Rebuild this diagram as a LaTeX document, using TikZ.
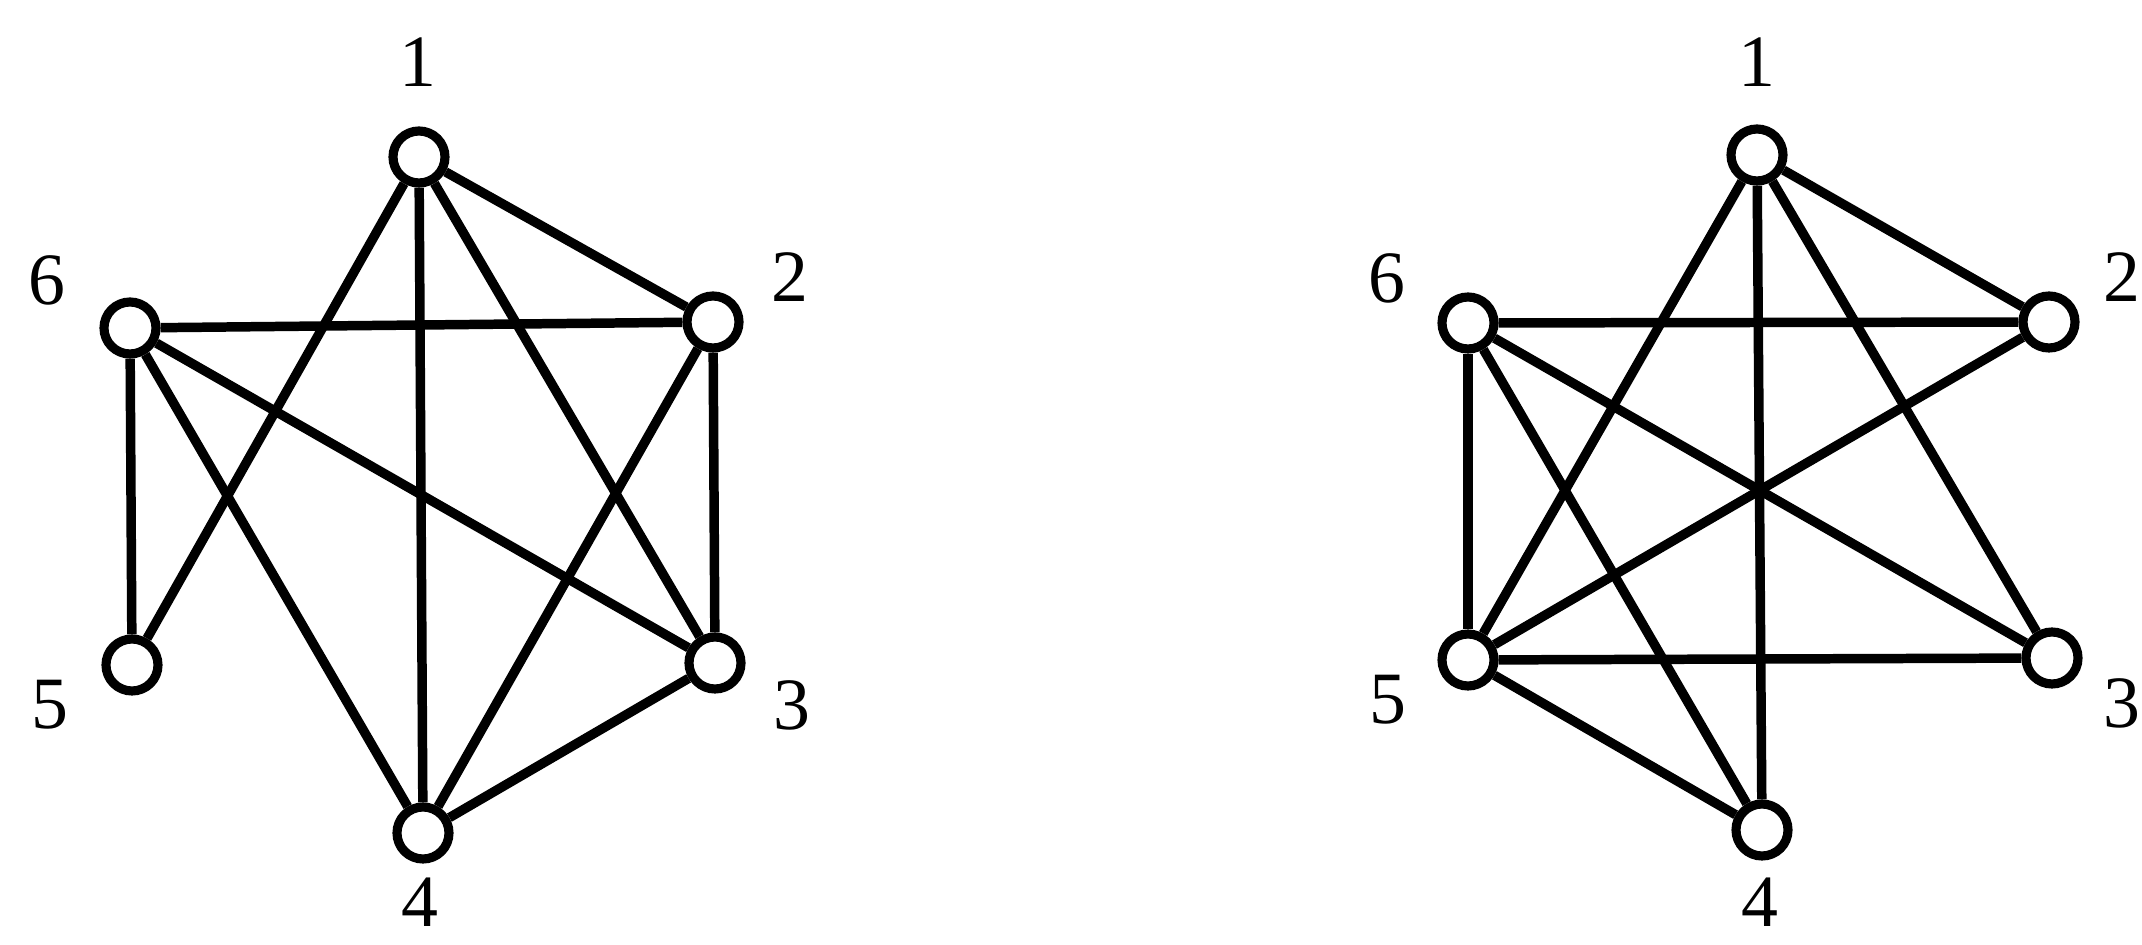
\documentclass[tikz,border=0pt]{standalone}
\usepackage{fontspec}
\setmainfont{Liberation Serif}
\usetikzlibrary{positioning}

\begin{document}
\begin{tikzpicture}[font=\fontsize{21}{24}\selectfont]
    \tikzset{
        vertex/.style={circle, draw=black, line width=2.6pt, fill=white,
            minimum size=0.52cm, inner sep=0pt},
        vlabel/.style={inner sep=0pt},
        edge/.style={line width=2.7pt}
    }
    \useasboundingbox (0,0) rectangle (21.42,-9.45);
    % left graph
    \node[vertex] (a1) at (4.19,-1.57) {};
    \node[vertex] (a2) at (7.13,-3.22) {};
    \node[vertex] (a3) at (7.15,-6.63) {};
    \node[vertex] (a4) at (4.23,-8.33) {};
    \node[vertex] (a5) at (1.32,-6.65) {};
    \node[vertex] (a6) at (1.30,-3.28) {};
    \node[vlabel] (la1) at (4.18,-0.62) {1};
    \node[vlabel] (la2) at (7.90,-2.77) {2};
    \node[vlabel] (la3) at (7.92,-7.05) {3};
    \node[vlabel] (la4) at (4.20,-9.02) {4};
    \node[vlabel] (la5) at (0.50,-7.05) {5};
    \node[vlabel] (la6) at (0.47,-2.80) {6};
    \draw[edge] (a1) -- (a2);
    \draw[edge] (a1) -- (a3);
    \draw[edge] (a1) -- (a4);
    \draw[edge] (a1) -- (a5);
    \draw[edge] (a6) -- (a2);
    \draw[edge] (a6) -- (a3);
    \draw[edge] (a6) -- (a4);
    \draw[edge] (a6) -- (a5);
    \draw[edge] (a2) -- (a3);
    \draw[edge] (a2) -- (a4);
    \draw[edge] (a3) -- (a4);
    % right graph
    \node[vertex] (b1) at (17.57,-1.55) {};
    \node[vertex] (b2) at (20.49,-3.22) {};
    \node[vertex] (b3) at (20.52,-6.58) {};
    \node[vertex] (b4) at (17.62,-8.30) {};
    \node[vertex] (b5) at (14.68,-6.60) {};
    \node[vertex] (b6) at (14.68,-3.23) {};
    \node[vlabel] (lb1) at (17.57,-0.62) {1};
    \node[vlabel] (lb2) at (21.22,-2.77) {2};
    \node[vlabel] (lb3) at (21.22,-7.03) {3};
    \node[vlabel] (lb4) at (17.60,-9.02) {4};
    \node[vlabel] (lb5) at (13.88,-7.00) {5};
    \node[vlabel] (lb6) at (13.87,-2.78) {6};
    \draw[edge] (b1) -- (b2);
    \draw[edge] (b1) -- (b3);
    \draw[edge] (b1) -- (b4);
    \draw[edge] (b1) -- (b5);
    \draw[edge] (b6) -- (b2);
    \draw[edge] (b6) -- (b3);
    \draw[edge] (b6) -- (b4);
    \draw[edge] (b6) -- (b5);
    \draw[edge] (b5) -- (b2);
    \draw[edge] (b5) -- (b3);
    \draw[edge] (b5) -- (b4);
\end{tikzpicture}
\end{document}
